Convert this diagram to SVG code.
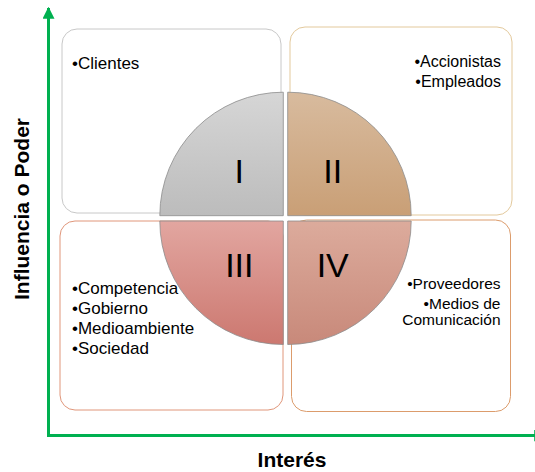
<svg xmlns="http://www.w3.org/2000/svg" width="535" height="472" viewBox="0 0 535 472">
  <defs>
    <linearGradient id="gI" x1="0" y1="0" x2="0" y2="1">
      <stop offset="0" stop-color="#d6d6d6"/>
      <stop offset="1" stop-color="#bcbcbc"/>
    </linearGradient>
    <linearGradient id="gII" x1="0" y1="0" x2="0" y2="1">
      <stop offset="0" stop-color="#d8bb9e"/>
      <stop offset="1" stop-color="#c99f76"/>
    </linearGradient>
    <linearGradient id="gIII" x1="0" y1="0" x2="0" y2="1">
      <stop offset="0" stop-color="#e2a6a0"/>
      <stop offset="1" stop-color="#cc7870"/>
    </linearGradient>
    <linearGradient id="gIV" x1="0" y1="0" x2="0" y2="1">
      <stop offset="0" stop-color="#dcab9c"/>
      <stop offset="1" stop-color="#c8897a"/>
    </linearGradient>
    <marker id="arrow" viewBox="0 0 10 10" refX="9" refY="5" markerWidth="4" markerHeight="4" orient="auto" markerUnits="strokeWidth">
      <path d="M0,0 L10,5 L0,10 Z" fill="#00b050"/>
    </marker>
  </defs>
  <style>
    .box { fill: #ffffff; stroke-width: 1; }
    .wedge { stroke: #8c8c8c; stroke-width: 0.8; }
    .item { font-family: "Liberation Sans", Arial, sans-serif; fill: #000000; }
    .left { font-size: 17px; }
    .tr { font-size: 16px; text-anchor: end; }
    .br { font-size: 15.5px; text-anchor: end; }
    .num { font-family: "Liberation Sans", Arial, sans-serif; font-size: 34px; fill: #000000; text-anchor: middle; }
    .axis-label { font-family: "Liberation Sans", Arial, sans-serif; font-size: 21px; font-weight: bold; fill: #000000; text-anchor: middle; }
    .axis { stroke: #00b050; stroke-width: 3; fill: none; }
  </style>

  <!-- quadrant I -->
  <g id="quadrant-1">
    <rect class="box" x="62" y="29" width="219" height="184" rx="15" stroke="#c8c8c8"/>
    <path class="wedge" fill="url(#gI)" d="M283.3,215.7 L159.8,215.7 A123.5,123.5 0 0 1 283.3,92.2 Z"/>
    <text class="num" x="239.3" y="183.3">I</text>
    <text class="item left" x="72" y="69">•Clientes</text>
  </g>

  <!-- quadrant II -->
  <g id="quadrant-2">
    <rect class="box" x="290" y="27" width="222" height="188" rx="15" stroke="#e3c99c"/>
    <path class="wedge" fill="url(#gII)" d="M287.7,215.7 L287.7,92.2 A123.5,123.5 0 0 1 411.2,215.7 Z"/>
    <text class="num" x="332.7" y="183.3">II</text>
    <text class="item tr" x="501" y="67">•Accionistas</text>
    <text class="item tr" x="501" y="87">•Empleados</text>
  </g>

  <!-- quadrant III -->
  <g id="quadrant-3">
    <rect class="box" x="60" y="221" width="223" height="189" rx="15" stroke="#e0967a"/>
    <path class="wedge" fill="url(#gIII)" d="M283.3,221 L283.3,344.5 A123.5,123.5 0 0 1 159.8,221 Z"/>
    <text class="num" x="239.3" y="276.7">III</text>
    <text class="item left" x="72" y="293.5">•Competencia</text>
    <text class="item left" x="72" y="313.5">•Gobierno</text>
    <text class="item left" x="72" y="333.5">•Medioambiente</text>
    <text class="item left" x="72" y="353.5">•Sociedad</text>
  </g>

  <!-- quadrant IV -->
  <g id="quadrant-4">
    <rect class="box" x="291.5" y="220" width="219" height="191.5" rx="15" stroke="#dc9c6c"/>
    <path class="wedge" fill="url(#gIV)" d="M287.7,221 L411.2,221 A123.5,123.5 0 0 1 287.7,344.5 Z"/>
    <text class="num" x="332.7" y="276.7">IV</text>
    <text class="item br" x="500.5" y="289">•Proveedores</text>
    <text class="item br" x="500.5" y="308.5">•Medios de</text>
    <text class="item br" x="500.5" y="325">Comunicación</text>
  </g>

  <!-- axes -->
  <g id="axes">
    <path class="axis" d="M48.5,436 L48.5,8" marker-end="url(#arrow)"/>
    <path class="axis" d="M47,435.5 L545,435.5" marker-end="url(#arrow)"/>
    <text class="axis-label" transform="translate(29,209) rotate(-90)">Influencia o Poder</text>
    <text class="axis-label" x="292" y="467">Interés</text>
  </g>
</svg>
